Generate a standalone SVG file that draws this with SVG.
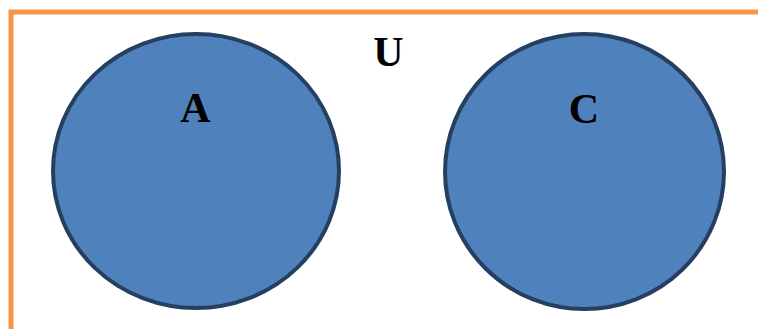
<svg xmlns="http://www.w3.org/2000/svg" width="758" height="329" viewBox="0 0 758 329">
<style>
.set{fill:#4F81BD;stroke:#243F60;stroke-width:4}
.lbl{font-family:"Liberation Serif","Times New Roman",serif;font-weight:bold;font-size:42px;fill:#000;text-anchor:middle}
</style>
<rect width="758" height="329" fill="#fff"/>
<g id="universe">
<polyline points="11,329 11,12 758,12" fill="none" stroke="#F79646" stroke-width="5"/>
<text class="lbl" x="388.5" y="66">U</text>
</g>
<g id="setA">
<ellipse class="set" cx="196" cy="171" rx="143" ry="137"/>
<text class="lbl" x="195.5" y="122">A</text>
</g>
<g id="setC">
<ellipse class="set" cx="584.5" cy="171.5" rx="139.5" ry="137.5"/>
<text class="lbl" x="584" y="123">C</text>
</g>
<g id="connectors"></g>
</svg>
